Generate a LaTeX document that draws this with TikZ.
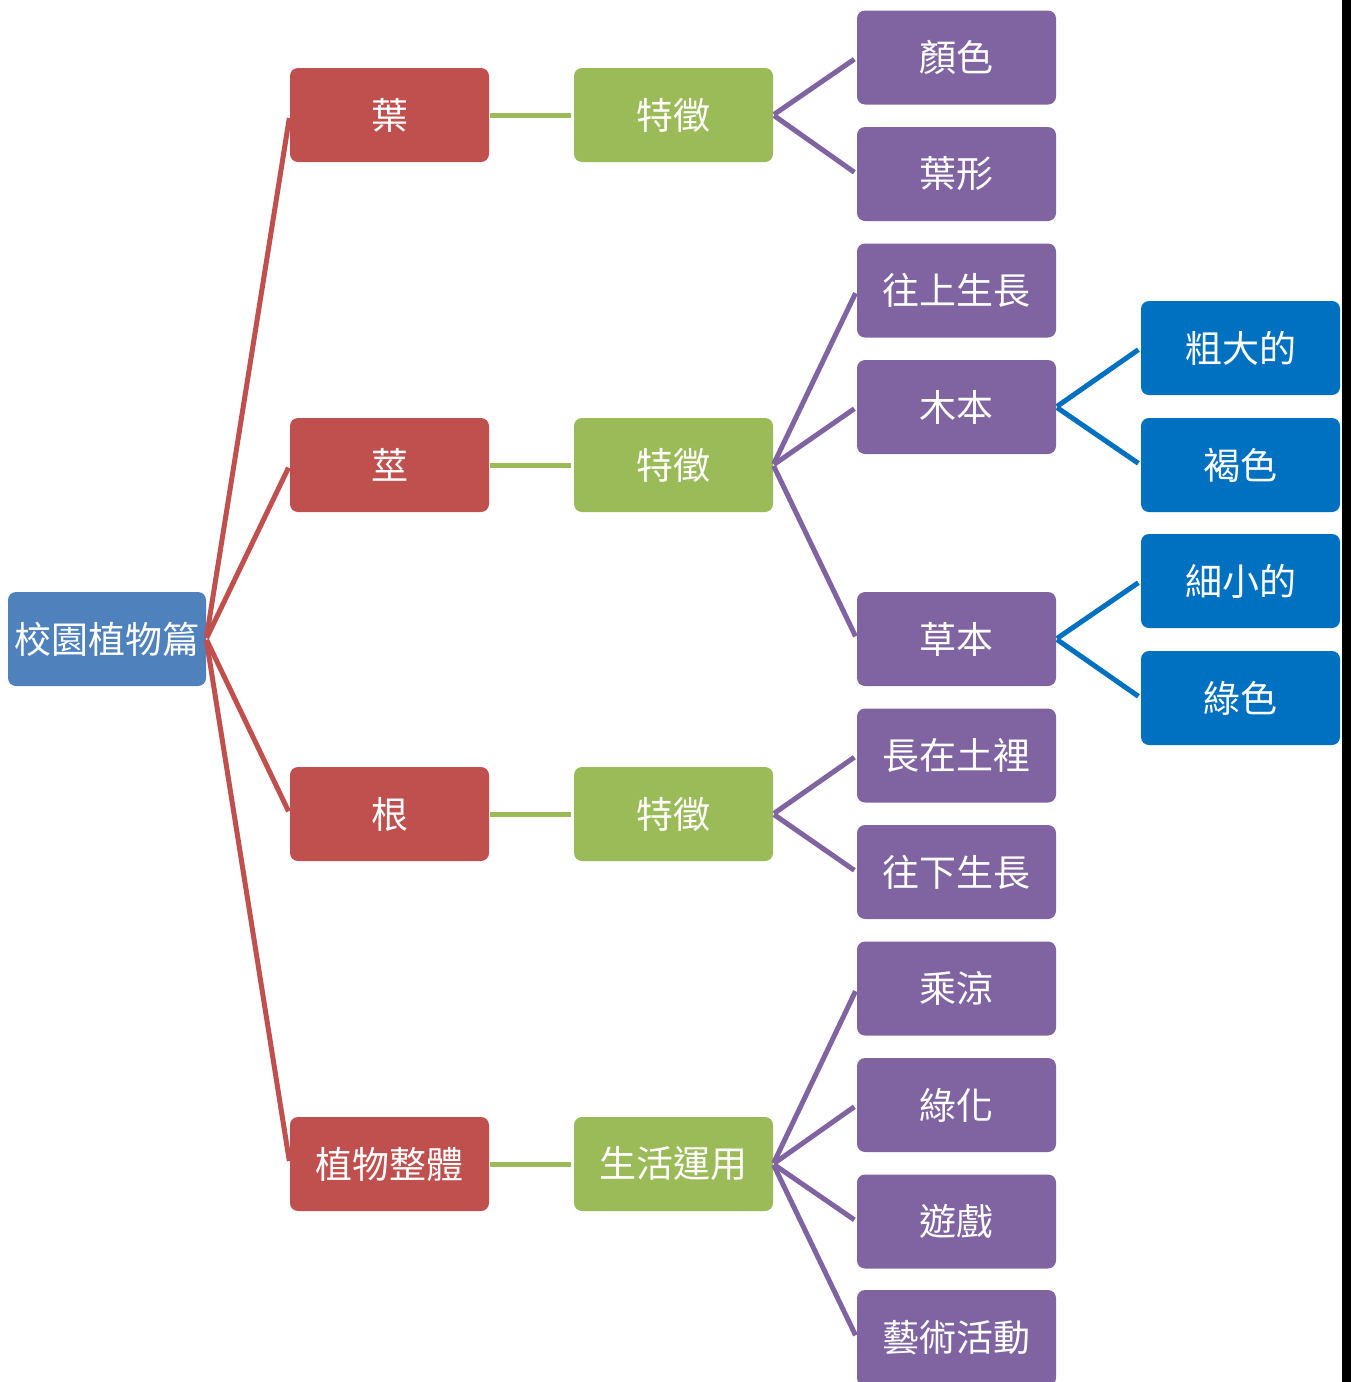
\documentclass[tikz,border=0pt]{standalone}
\usepackage{fontspec}
\newfontfamily\cjk{Noto Sans CJK TC}
\definecolor{cRoot}{HTML}{4F81BD}
\definecolor{cRed}{HTML}{C0504D}
\definecolor{cGreen}{HTML}{9BBB59}
\definecolor{cPurple}{HTML}{8064A2}
\definecolor{cBlue}{HTML}{0070C0}
\tikzset{
  box/.style={rectangle, rounded corners=8pt, minimum width=199pt, minimum height=94pt, inner sep=0pt,
    text=white, font=\cjk\fontsize{37}{40}\selectfont},
  rootbox/.style={box, fill=cRoot, minimum width=198pt},
  redbox/.style={box, fill=cRed},
  greenbox/.style={box, fill=cGreen},
  purplebox/.style={box, fill=cPurple},
  bluebox/.style={box, fill=cBlue},
  conn/.style={line width=5pt, shorten >=3pt, shorten <=1pt},
}
\begin{document}
\begin{tikzpicture}[x=1pt,y=-1pt]
\useasboundingbox (0,0) rectangle (1351,1382);
\fill[black] (1342,0) rectangle (1351,1382);
% root
\node[rootbox] (root) at (107,639) {校園植物篇};
% level 1
\node[redbox] (r1) at (389.5,115) {葉};
\node[redbox] (r2) at (389.5,465) {莖};
\node[redbox] (r3) at (389.5,814) {根};
\node[redbox] (r4) at (389.5,1164) {植物整體};
% level 2
\node[greenbox] (g1) at (673.5,115) {特徵};
\node[greenbox] (g2) at (673.5,465) {特徵};
\node[greenbox] (g3) at (673.5,814) {特徵};
\node[greenbox] (g4) at (673.5,1164) {生活運用};
% level 3
\node[purplebox] (p1) at (956.5,57.5) {顏色};
\node[purplebox] (p2) at (956.5,174) {葉形};
\node[purplebox] (p3) at (956.5,290.5) {往上生長};
\node[purplebox] (p4) at (956.5,407) {木本};
\node[purplebox] (p5) at (956.5,639) {草本};
\node[purplebox] (p6) at (956.5,755.5) {長在土裡};
\node[purplebox] (p7) at (956.5,872) {往下生長};
\node[purplebox] (p8) at (956.5,988.5) {乘涼};
\node[purplebox] (p9) at (956.5,1105) {綠化};
\node[purplebox] (p10) at (956.5,1221.5) {遊戲};
\node[purplebox, minimum height=96pt] (p11) at (956.5,1338) {藝術活動};
% level 4
\node[bluebox] (b1) at (1240.5,348) {粗大的};
\node[bluebox] (b2) at (1240.5,465) {褐色};
\node[bluebox] (b3) at (1240.5,581) {細小的};
\node[bluebox] (b4) at (1240.5,698) {綠色};
% connectors
\foreach \c in {r1,r2,r3,r4} \draw[conn, cRed] (root.east) -- (\c.west);
\draw[conn, cGreen] (r1.east) -- (g1.west);
\draw[conn, cGreen] (r2.east) -- (g2.west);
\draw[conn, cGreen] (r3.east) -- (g3.west);
\draw[conn, cGreen] (r4.east) -- (g4.west);
\foreach \c in {p1,p2} \draw[conn, cPurple] (g1.east) -- (\c.west);
\foreach \c in {p3,p4,p5} \draw[conn, cPurple] (g2.east) -- (\c.west);
\foreach \c in {p6,p7} \draw[conn, cPurple] (g3.east) -- (\c.west);
\foreach \c in {p8,p9,p10,p11} \draw[conn, cPurple] (g4.east) -- (\c.west);
\foreach \c in {b1,b2} \draw[conn, cBlue] (p4.east) -- (\c.west);
\foreach \c in {b3,b4} \draw[conn, cBlue] (p5.east) -- (\c.west);
\end{tikzpicture}
\end{document}
